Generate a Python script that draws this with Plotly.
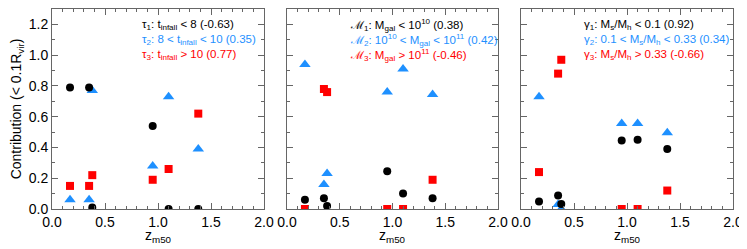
import plotly.graph_objects as go

# shared x positions (z_m50) of the six systems
z_m50 = [0.17, 0.35, 0.38, 0.95, 1.10, 1.38]

# Panel 1: infall time groups
p1_black = [0.79, 0.79, 0.01, 0.54, 0.00, 0.00]
p1_blue = [0.06, 0.06, 0.77, 0.28, 0.73, 0.39]
p1_red = [0.15, 0.15, 0.22, 0.19, 0.26, 0.62]

# Panel 2: galaxy mass groups
p2_black = [0.06, 0.07, 0.02, 0.245, 0.10, 0.07]
p2_blue = [0.94, 0.16, 0.23, 0.76, 0.91, 0.745]
p2_red = [0.00, 0.78, 0.76, 0.00, 0.00, 0.19]

# Panel 3: stellar-to-halo mass ratio groups
p3_black = [0.048, 0.087, 0.033, 0.445, 0.45, 0.39]
p3_blue = [0.73, 0.03, 0.00, 0.555, 0.555, 0.495]
p3_red = [0.24, 0.88, 0.97, 0.00, 0.00, 0.12]

legend1 = ["τ<sub>1</sub>: t<sub>infall</sub> &lt; 8 (-0.63)",
           "τ<sub>2</sub>: 8 &lt; t<sub>infall</sub> &lt; 10 (0.35)",
           "τ<sub>3</sub>: t<sub>infall</sub> &gt; 10 (0.77)"]
legend2 = ["ℳ<sub>1</sub>: M<sub>gal</sub> &lt; 10<sup>10</sup> (0.38)",
           "ℳ<sub>2</sub>: 10<sup>10</sup> &lt; M<sub>gal</sub> &lt; 10<sup>11</sup> (0.42)",
           "ℳ<sub>3</sub>: M<sub>gal</sub> &gt; 10<sup>11</sup> (-0.46)"]
legend3 = ["γ<sub>1</sub>: M<sub>s</sub>/M<sub>h</sub> &lt; 0.1 (0.92)",
           "γ<sub>2</sub>: 0.1 &lt; M<sub>s</sub>/M<sub>h</sub> &lt; 0.33 (0.34)",
           "γ<sub>3</sub>: M<sub>s</sub>/M<sub>h</sub> &gt; 0.33 (-0.66)"]

x_ticks = [0.0, 0.5, 1.0, 1.5, 2.0]
y_ticks = [0.0, 0.2, 0.4, 0.6, 0.8, 1.0, 1.2]

BLACK = "#000000"
BLUE = "#1E90FF"
RED = "#FF0000"
FONT = "Liberation Sans, Arial, sans-serif"

fig = go.Figure()

panels = [
    (p1_black, p1_blue, p1_red, legend1, "x", "y", 0.415),
    (p2_black, p2_blue, p2_red, legend2, "x2", "y2", 0.289),
    (p3_black, p3_blue, p3_red, legend3, "x3", "y3", 0.288),
]

for blk, blu, red, leg, xa, ya, lx in panels:
    fig.add_trace(go.Scatter(x=z_m50, y=red, mode="markers", xaxis=xa, yaxis=ya,
                             marker=dict(symbol="square", size=8, color=RED), showlegend=False))
    fig.add_trace(go.Scatter(x=z_m50, y=blu, mode="markers", xaxis=xa, yaxis=ya,
                             marker=dict(symbol="triangle-up", size=10, color=BLUE), showlegend=False))
    fig.add_trace(go.Scatter(x=z_m50, y=blk, mode="markers", xaxis=xa, yaxis=ya,
                             marker=dict(symbol="circle", size=8, color=BLACK), showlegend=False))
    for i, (txt, col) in enumerate(zip(leg, [BLACK, BLUE, RED])):
        fig.add_annotation(x=lx, y=1.0, xref=xa + " domain", yref=ya + " domain",
                           text=txt, showarrow=False, xanchor="left", yanchor="middle",
                           yshift=-16 - 15 * i,
                           font=dict(family=FONT, size=11.5, color=col))
    # x-axis title as annotation under each panel
    fig.add_annotation(x=0.5, y=0.0, xref=xa + " domain", yref="paper",
                       text="z<sub>m50</sub>", showarrow=False, xanchor="center",
                       yanchor="middle", yshift=-27,
                       font=dict(family=FONT, size=14, color=BLACK))

W = 681.0
domains = [(0, 212 / W), (235 / W, 446 / W), (469 / W, 1)]

axis_common = dict(
    showline=True, linecolor="#666666", linewidth=1, mirror="ticks",
    ticks="inside", ticklen=6, tickcolor="#666666", tickwidth=1,
    showgrid=False, zeroline=False,
    tickfont=dict(family=FONT, size=14, color="#000000"),
)

for i, (d0, d1) in enumerate(domains):
    sfx = "" if i == 0 else str(i + 1)
    fig.layout["xaxis" + sfx] = dict(
        axis_common, domain=[d0, d1], range=[0, 2], tickvals=x_ticks,
        ticktext=[f"{v:.1f}" for v in x_ticks], anchor="y" + sfx,
        minor=dict(dtick=0.1, tick0=0, ticks="inside", ticklen=3, tickcolor="#666666"),
    )
    fig.layout["yaxis" + sfx] = dict(
        axis_common, domain=[0, 1], range=[0, 1.3], tickvals=y_ticks,
        ticktext=[f"{v:.1f}" for v in y_ticks], anchor="x" + sfx,
        showticklabels=(i == 0),
        minor=dict(dtick=0.1, tick0=0, ticks="inside", ticklen=3, tickcolor="#666666"),
    )

fig.layout.yaxis.title = dict(text="Contribution (&lt; 0.1R<sub>vir</sub>)",
                              font=dict(family=FONT, size=14), standoff=8)

# the page body has an 8px default margin; compensate so the plot areas
# land at the same window pixels as the reference
fig.update_layout(
    width=739, height=241,
    margin=dict(l=44, r=14, t=1, b=40),
    paper_bgcolor="white", plot_bgcolor="white",
    font=dict(family=FONT, color="#000000"),
)

fig.write_html("out.html")
